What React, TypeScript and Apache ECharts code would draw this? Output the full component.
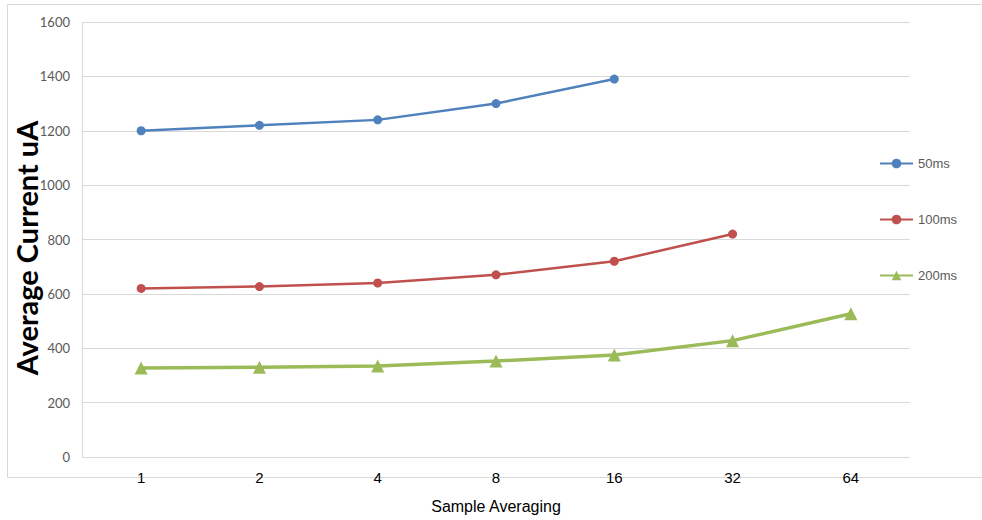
import React, { useEffect, useRef } from "react";
import * as echarts from "echarts";

const categories = ["1", "2", "4", "8", "16", "32", "64"];
const s50 = [1200, 1220, 1240, 1300, 1390, null, null];
const s100 = [620, 627, 640, 670, 720, 820, null];
const s200 = [327, 330, 335, 353, 375, 428, 527];
const yTicks = { min: 0, max: 1600, interval: 200 };
const yTitle = "Average Current uA";
const xTitle = "Sample Averaging";

export default function App() {
  const ref = useRef<HTMLDivElement>(null);
  useEffect(() => {
    if (!ref.current) return;
    const chart = echarts.init(ref.current, undefined, { renderer: "svg" });
    chart.setOption({
      animation: false,
      backgroundColor: "#ffffff",
      graphic: [
        {
          type: "rect",
          shape: { x: 7.5, y: 4.5, width: 980, height: 473 },
          style: { fill: "none", stroke: "#d9d9d9", lineWidth: 1 },
          z: -1,
        },
        {
          type: "text",
          x: 26,
          y: 248,
          rotation: Math.PI / 2,
          style: {
            text: yTitle,
            fill: "#000",
            font: "bold 29px Lato",
            textAlign: "center",
            textVerticalAlign: "middle",
          },
        },
      ],
      grid: {
        left: 82,
        right: 72,
        top: 22,
        bottom: 63,
        containLabel: false,
        outerBoundsMode: "none",
      },
      legend: {
        orient: "vertical",
        left: 879,
        top: 157,
        padding: 0,
        itemWidth: 33,
        itemHeight: 12,
        itemGap: 43,
        textStyle: { color: "#595959", fontSize: 13, fontFamily: "Liberation Sans" },
        data: ["50ms", "100ms", "200ms"],
      },
      xAxis: {
        type: "category",
        data: categories,
        boundaryGap: true,
        axisLine: { show: false },
        axisTick: { show: false },
        axisLabel: { margin: 13, color: "#000", fontSize: 15, fontFamily: "Liberation Sans" },
        name: xTitle,
        nameLocation: "middle",
        nameGap: 41,
        nameTextStyle: { color: "#000", fontSize: 16, fontFamily: "Liberation Sans" },
      },
      yAxis: {
        type: "value",
        min: yTicks.min,
        max: yTicks.max,
        interval: yTicks.interval,
        axisLine: { show: true, lineStyle: { color: "#d9d9d9" } },
        axisTick: { show: false },
        splitLine: { lineStyle: { color: "#d9d9d9" } },
        axisLabel: {
          margin: 12,
          color: "#595959",
          fontSize: 13,
          fontFamily: "Lato",
          formatter: (v: number) => String(v),
        },
      },
      series: [
        {
          name: "50ms",
          type: "line",
          data: s50,
          symbol: "circle",
          symbolSize: 9,
          itemStyle: { color: "#4f81bd" },
          lineStyle: { color: "#4f81bd", width: 2.5 },
        },
        {
          name: "100ms",
          type: "line",
          data: s100,
          symbol: "circle",
          symbolSize: 9,
          itemStyle: { color: "#c0504d" },
          lineStyle: { color: "#c0504d", width: 2.5 },
        },
        {
          name: "200ms",
          type: "line",
          data: s200,
          symbol: "triangle",
          symbolSize: 13,
          itemStyle: { color: "#9bbb59" },
          lineStyle: { color: "#9bbb59", width: 3.5 },
        },
      ],
    });
    return () => chart.dispose();
  }, []);
  return (
    <div
      ref={ref}
      style={{ position: "absolute", left: 0, top: 0, width: 982, height: 520 }}
    />
  );
}
